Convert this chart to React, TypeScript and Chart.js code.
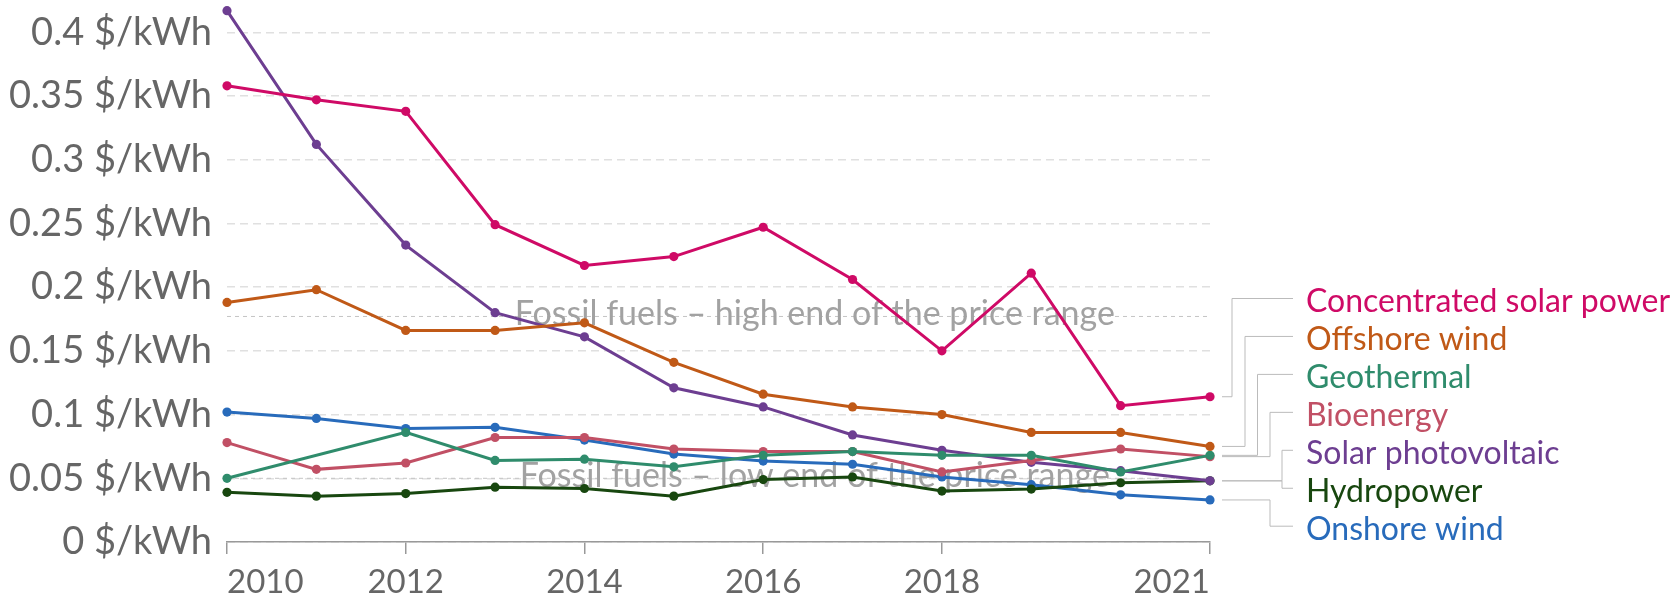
import React, { useEffect, useRef } from 'react';
import { Chart, registerables } from 'chart.js';

Chart.register(...registerables);

// ---------- data ----------
const years = ['2010', '2011', '2012', '2013', '2014', '2015', '2016', '2017', '2018', '2019', '2020', '2021'];
const xTickYears = ['2010', '2012', '2014', '2016', '2018', '2021'];
const yTickValues = [0, 0.05, 0.1, 0.15, 0.2, 0.25, 0.3, 0.35, 0.4];

const concentratedSolar = [0.358, 0.347, 0.338, 0.249, 0.217, 0.224, 0.247, 0.206, 0.150, 0.211, 0.107, 0.114];
const offshoreWind = [0.188, 0.198, 0.166, 0.166, 0.172, 0.141, 0.116, 0.106, 0.100, 0.086, 0.086, 0.075];
const geothermal = [0.050, null, 0.086, 0.064, 0.065, 0.059, 0.068, 0.071, 0.068, 0.068, 0.055, 0.068];
const bioenergy = [0.078, 0.057, 0.062, 0.082, 0.082, 0.073, 0.071, 0.071, 0.055, 0.064, 0.073, 0.067];
const solarPV = [0.417, 0.312, 0.233, 0.180, 0.161, 0.121, 0.106, 0.084, 0.072, 0.0625, 0.056, 0.048];
const hydropower = [0.039, 0.036, 0.038, 0.043, 0.042, 0.036, 0.049, 0.051, 0.040, 0.0415, 0.0465, 0.048];
const onshoreWind = [0.102, 0.097, 0.089, 0.090, 0.080, 0.069, 0.0635, 0.061, 0.051, 0.045, 0.037, 0.033];

const seriesNames = [
  'Concentrated solar power',
  'Offshore wind',
  'Geothermal',
  'Bioenergy',
  'Solar photovoltaic',
  'Hydropower',
  'Onshore wind',
];
const seriesValues = [concentratedSolar, offshoreWind, geothermal, bioenergy, solarPV, hydropower, onshoreWind];
const seriesColors = ['#cf0a66', '#c05917', '#2f8c6c', '#c15065', '#6d3e91', '#18470f', '#286bbb'];

const fossilHigh = 0.177;
const fossilLow = 0.05;
const fossilHighLabel = 'Fossil fuels – high end of the price range';
const fossilLowLabel = 'Fossil fuels – low end of the price range';

// ---------- layout / style ----------
const FONT = 'Lato';
const LEGEND_ELBOWS = [22, 35, 47.5, 60, 72, 72, 60];
const LEGEND_START = 12;
const LEGEND_LINE_END = 83;
const LEGEND_TEXT = 96;
const LEGEND_FIRST_Y = 298.5;
const LEGEND_STEP = 37.95;

const fossilPlugin = {
  id: 'fossilPlugin',
  beforeDatasetsDraw(chart: any) {
    const { ctx, chartArea, scales } = chart;
    const y = scales.y;
    const cx = chartArea.left + 0.598 * (chartArea.right - chartArea.left);
    const items: [number, string][] = [
      [fossilHigh, fossilHighLabel],
      [fossilLow, fossilLowLabel],
    ];
    ctx.save();
    for (const [v, label] of items) {
      const py = y.getPixelForValue(v);
      ctx.beginPath();
      ctx.setLineDash([4, 4]);
      ctx.strokeStyle = '#c4c4c4';
      ctx.lineWidth = 1;
      ctx.moveTo(chartArea.left, py);
      ctx.lineTo(chartArea.right, py);
      ctx.stroke();
      ctx.setLineDash([]);
      ctx.font = `34px ${FONT}`;
      ctx.fillStyle = '#a2a2a2';
      ctx.textAlign = 'center';
      ctx.textBaseline = 'middle';
      ctx.fillText(label, cx, py - 2);
    }
    ctx.restore();
  },
};

const legendPlugin = {
  id: 'legendPlugin',
  afterDatasetsDraw(chart: any) {
    const { ctx, chartArea, scales } = chart;
    const x = scales.x;
    const y = scales.y;
    const right = chartArea.right;
    ctx.save();
    seriesNames.forEach((name, i) => {
      const vals = seriesValues[i];
      let lastIdx = vals.length - 1;
      while (lastIdx > 0 && vals[lastIdx] == null) lastIdx--;
      const py = y.getPixelForValue(vals[lastIdx] as number);
      const px = x.getPixelForValue(lastIdx) + LEGEND_START;
      const ty = LEGEND_FIRST_Y + i * LEGEND_STEP;
      const ex = right + LEGEND_ELBOWS[i];
      ctx.beginPath();
      ctx.strokeStyle = '#bbbbbb';
      ctx.lineWidth = 1;
      ctx.moveTo(px, py);
      ctx.lineTo(ex, py);
      ctx.lineTo(ex, ty);
      ctx.lineTo(right + LEGEND_LINE_END, ty);
      ctx.stroke();
      ctx.font = `32px ${FONT}`;
      ctx.fillStyle = seriesColors[i];
      ctx.textAlign = 'left';
      ctx.textBaseline = 'middle';
      ctx.fillText(name, right + LEGEND_TEXT, ty + 3);
    });
    ctx.restore();
  },
};

export default function App() {
  const canvasRef = useRef<HTMLCanvasElement | null>(null);

  useEffect(() => {
    if (!canvasRef.current) return;
    const chart = new Chart(canvasRef.current, {
      type: 'line',
      data: {
        labels: years,
        datasets: seriesNames.map((name, i) => ({
          label: name,
          data: seriesValues[i],
          borderColor: seriesColors[i],
          backgroundColor: seriesColors[i],
          pointBackgroundColor: seriesColors[i],
          pointBorderWidth: 0,
          pointRadius: 4.6,
          borderWidth: 3,
          tension: 0,
          spanGaps: true,
          clip: false as any,
        })),
      },
      options: {
        animation: false,
        responsive: false,
        devicePixelRatio: 1,
        layout: { padding: { top: 10, right: 466, bottom: 0, left: 0 } },
        plugins: {
          legend: { display: false },
          tooltip: { enabled: false },
          title: { display: false },
        },
        scales: {
          x: {
            type: 'category',
            offset: false,
            grid: {
              drawOnChartArea: false,
              drawTicks: true,
              tickLength: 12,
              color: '#999999',
              lineWidth: 1.5,
            },
            border: { display: true, color: '#999999', width: 1.5 },
            ticks: {
              autoSkip: false,
              maxRotation: 0,
              align: 'inner',
              padding: 9,
              color: '#666666',
              font: { family: FONT, size: 33 },
              callback: (_v: any, idx: number) => (xTickYears.includes(years[idx]) ? years[idx] : null),
            },
            afterFit: (s: any) => {
              s.height = 58;
              s.paddingLeft = 0;
              s.paddingRight = 0;
            },
          },
          y: {
            min: 0,
            max: 0.4175,
            afterBuildTicks: (s: any) => {
              s.ticks = yTickValues.map((v) => ({ value: v }));
            },
            grid: { color: '#e0e0e0', lineWidth: 1.5, drawTicks: false },
            border: { display: false, dash: [8, 5] },
            ticks: {
              padding: 15,
              color: '#666666',
              font: { family: FONT, size: 38 },
              callback: (v: any) => `${v} $/kWh`,
            },
            afterFit: (s: any) => {
              s.width = 227;
              s.paddingTop = 0;
              s.paddingBottom = 0;
            },
          },
        },
      } as any,
      plugins: [fossilPlugin, legendPlugin],
    });
    return () => chart.destroy();
  }, []);

  return (
    <div style={{ position: 'fixed', left: 0, top: 0, width: 1676, height: 600, background: '#fff' }}>
      <canvas ref={canvasRef} width={1676} height={600} style={{ width: 1676, height: 600 }} />
    </div>
  );
}
